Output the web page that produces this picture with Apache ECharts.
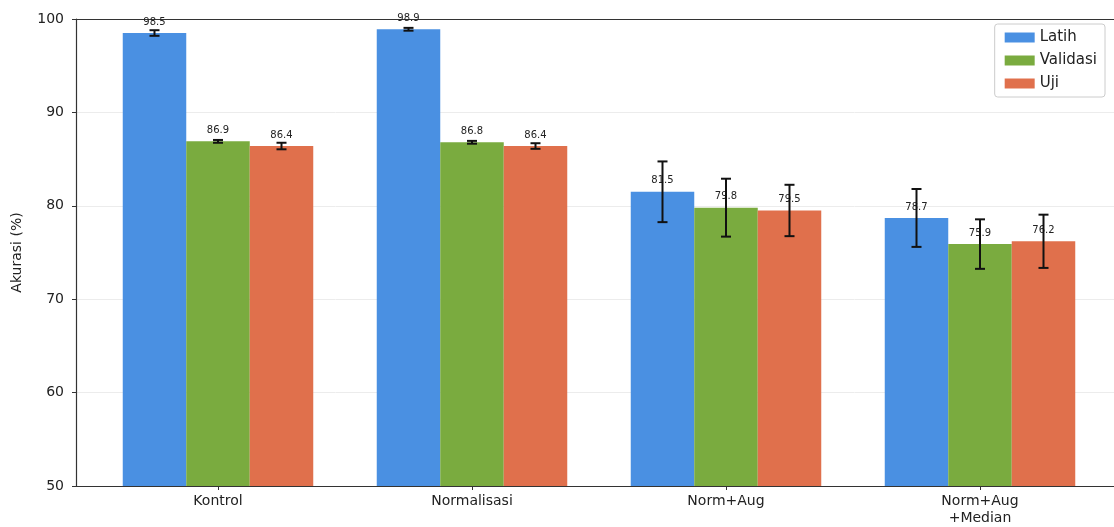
<!DOCTYPE html>
<html>
<head>
    <meta charset="utf-8">
    <script src="https://cdn.jsdelivr.net/npm/echarts@6/dist/echarts.min.js"></script>
    <style>
        body { margin: 0; background: #fff; }
        #main { width: 1114px; height: 527px; }
    </style>
</head>
<body>
    <div id="main"></div>
    <script type="text/javascript">
        var categories = ['Kontrol', 'Normalisasi', 'Norm+Aug', 'Norm+Aug\n+Median'];
        var seriesNames = ['Latih', 'Validasi', 'Uji'];
        var latih = [98.5, 98.9, 81.5, 78.7];
        var validasi = [86.9, 86.8, 79.8, 75.9];
        var uji = [86.4, 86.4, 79.5, 76.2];
        var latihErr = [0.3, 0.15, 3.25, 3.1];
        var validasiErr = [0.15, 0.15, 3.1, 2.65];
        var ujiErr = [0.35, 0.3, 2.75, 2.85];
        var yTicks = [50, 60, 70, 80, 90, 100];

        var colors = ['#4a90e2', '#7aab3f', '#e0704c'];
        var values = [latih, validasi, uji];
        var errs = [latihErr, validasiErr, ujiErr];

        var myChart = echarts.init(document.getElementById('main'));

        function errorSeries(k) {
            var data = values[k].map(function (v, i) {
                return [i, v - errs[k][i], v + errs[k][i]];
            });
            return {
                type: 'custom',
                name: seriesNames[k] + ' err',
                z: 5,
                data: data,
                encode: { x: 0, y: [1, 2] },
                renderItem: function (params, api) {
                    var lo = api.coord([api.value(0), api.value(1)]);
                    var hi = api.coord([api.value(0), api.value(2)]);
                    var band = api.size([1, 0])[0];
                    var x = lo[0] + (k - 1) * band * 0.25;
                    var cap = 5;
                    var style = { stroke: '#111', lineWidth: 2 };
                    return {
                        type: 'group',
                        children: [
                            { type: 'line', shape: { x1: x, y1: lo[1], x2: x, y2: hi[1] }, style: style },
                            { type: 'line', shape: { x1: x - cap, y1: lo[1], x2: x + cap, y2: lo[1] }, style: style },
                            { type: 'line', shape: { x1: x - cap, y1: hi[1], x2: x + cap, y2: hi[1] }, style: style }
                        ]
                    };
                }
            };
        }

        var series = [];
        for (var k = 0; k < 3; k++) {
            series.push({
                name: seriesNames[k],
                type: 'bar',
                data: values[k],
                barGap: '0%',
                barCategoryGap: '25%',
                itemStyle: { color: colors[k] },
                label: {
                    show: true,
                    position: 'top',
                    distance: 6,
                    fontSize: 10,
                    color: '#222',
                    fontFamily: 'DejaVu Sans',
                    formatter: function (p) { return p.value.toFixed(1); }
                }
            });
        }
        for (var k = 0; k < 3; k++) series.push(errorSeries(k));

        var spine = { show: true, lineStyle: { color: '#333', width: 1.2 } };

        myChart.setOption({
            animation: false,
            textStyle: { fontFamily: 'DejaVu Sans' },
            grid: [
                { left: 91, top: 19, width: 1016, bottom: 41 },
                { left: 76, top: 19, right: 0, bottom: 41 }
            ],
            legend: {
                data: seriesNames,
                orient: 'vertical',
                right: 9,
                top: 24,
                itemWidth: 30,
                itemHeight: 10,
                itemGap: 8,
                padding: [6, 8, 6, 10],
                borderColor: '#ccc',
                borderWidth: 1,
                borderRadius: 3,
                backgroundColor: '#fff',
                icon: 'rect',
                textStyle: { fontSize: 15, color: '#222', fontFamily: 'DejaVu Sans' }
            },
            xAxis: [{
                type: 'category',
                gridIndex: 0,
                data: categories,
                axisLine: { show: false },
                axisTick: { show: true, alignWithLabel: true, length: 4, lineStyle: { color: '#333' } },
                axisLabel: { color: '#222', fontSize: 14, margin: 7, lineHeight: 17 }
            }, {
                type: 'value', gridIndex: 1, position: 'bottom',
                axisLine: spine, axisTick: { show: false }, axisLabel: { show: false }, splitLine: { show: false }
            }, {
                type: 'value', gridIndex: 1, position: 'top',
                axisLine: spine, axisTick: { show: false }, axisLabel: { show: false }, splitLine: { show: false }
            }],
            yAxis: [{
                type: 'value',
                gridIndex: 0,
                min: yTicks[0],
                max: yTicks[yTicks.length - 1],
                interval: 10,
                offset: 15,
                name: 'Akurasi (%)',
                nameLocation: 'middle',
                nameGap: 52,
                nameTextStyle: { fontSize: 14, color: '#222' },
                axisLine: spine,
                axisTick: { show: true, length: 4, lineStyle: { color: '#333' } },
                axisLabel: { color: '#222', fontSize: 14, margin: 12 },
                splitLine: { show: false }
            }, {
                type: 'value', gridIndex: 1,
                min: yTicks[0], max: yTicks[yTicks.length - 1], interval: 10,
                axisLine: { show: false }, axisTick: { show: false }, axisLabel: { show: false },
                splitLine: { show: true, lineStyle: { color: '#ececec', width: 1 } }
            }],
            series: series
        });
    </script>
</body>
</html>
